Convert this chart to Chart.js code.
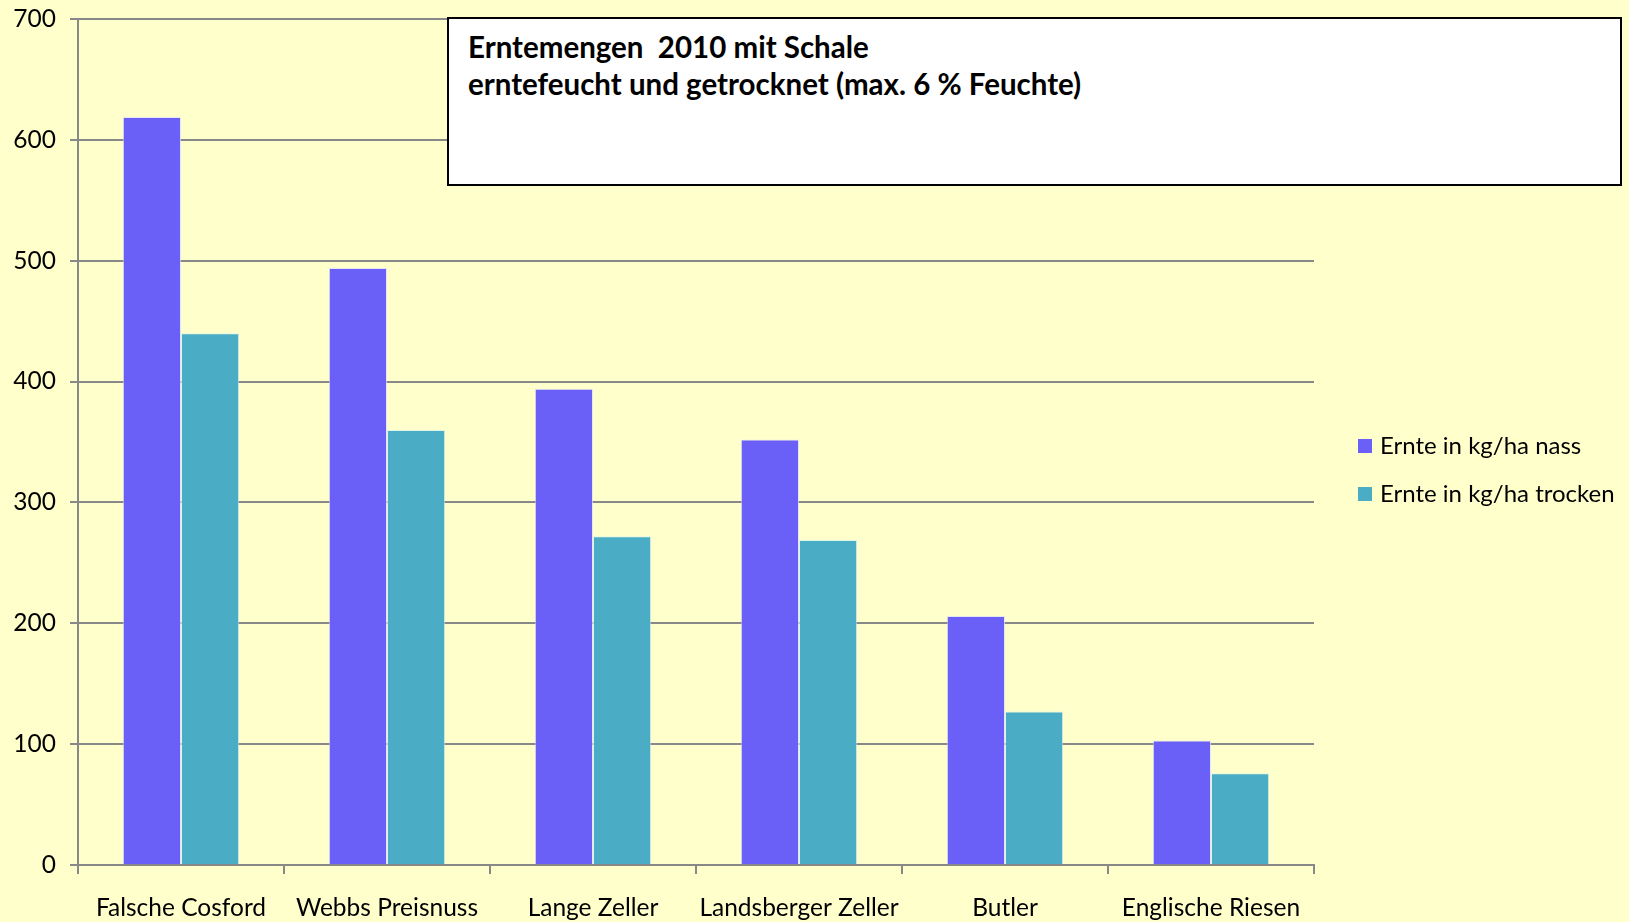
<!DOCTYPE html>
<html lang="de">
<head>
<meta charset="utf-8">
<title>Erntemengen 2010</title>
<script src="https://cdn.jsdelivr.net/npm/chart.js@4.4.1/dist/chart.umd.min.js"></script>
<style>
  html, body { margin: 0; padding: 0; background: #FFFFCC; }
  #wrap { position: relative; width: 1629px; height: 922px; overflow: hidden; }
  #chart { position: absolute; left: 0; top: 0; }
  #titleBox {
    position: absolute; left: 447px; top: 17px; width: 1175px; height: 169px;
    background: #fff; border: 2px solid #000; box-sizing: border-box;
    font-family: Lato, "Open Sans", sans-serif; font-weight: bold; font-size: 29.5px;
    line-height: 37px; padding: 9px 0 0 19px; color: #000;
  }
  #legend {
    position: absolute; left: 1358px; top: 431px;
    font-family: Lato, "Open Sans", sans-serif; font-size: 24px; color: #000;
  }
  #legend div { height: 48px; line-height: 28px; white-space: nowrap; }
  #legend span.box { display: inline-block; width: 14px; height: 14px; margin-right: 8px; vertical-align: 1px; }
</style>
</head>
<body>
<div id="wrap">
  <canvas id="chart" width="1629" height="922"></canvas>
  <div id="titleBox">Erntemengen&nbsp; 2010 mit Schale<br>erntefeucht und getrocknet (max. 6 % Feuchte)</div>
  <div id="legend"></div>
</div>
<script>
const sorten = ['Falsche Cosford', 'Webbs Preisnuss', 'Lange Zeller', 'Landsberger Zeller', 'Butler', 'Englische Riesen'];
const nass = [619, 494, 394, 352, 206, 103];
const trocken = [440, 360, 272, 269, 127, 76];
const yTicks = [0, 100, 200, 300, 400, 500, 600, 700];

const seriesNames = ['Ernte in kg/ha nass', 'Ernte in kg/ha trocken'];
const colNass = '#6A5FF7';
const colTrocken = '#4BACC6';
const gridGray = '#888888';
const labelFont = { family: 'Lato, "Open Sans", sans-serif', size: 24.5 };

// legend as html, next to the plot
document.getElementById('legend').innerHTML = seriesNames.map((n, i) =>
  `<div><span class="box" style="background:${i === 0 ? colNass : colTrocken}"></span>${n}</div>`
).join('');

const ctx = document.getElementById('chart').getContext('2d');
new Chart(ctx, {
  type: 'bar',
  data: {
    labels: sorten,
    datasets: [
      { label: seriesNames[0], data: nass, backgroundColor: colNass, borderColor: 'rgba(220,220,255,0.7)', borderWidth: 1 },
      { label: seriesNames[1], data: trocken, backgroundColor: colTrocken, borderColor: 'rgba(210,240,245,0.7)', borderWidth: 1 }
    ]
  },
  options: {
    responsive: false,
    animation: false,
    layout: { padding: { top: 19, right: 315, left: 0, bottom: 0 } },
    datasets: { bar: { categoryPercentage: 0.565, barPercentage: 1.0 } },
    plugins: {
      legend: { display: false },
      tooltip: { enabled: false }
    },
    scales: {
      x: {
        grid: { display: true, drawOnChartArea: false, offset: true, tickLength: 9, color: gridGray, lineWidth: 2 },
        border: { display: true, color: gridGray, width: 2 },
        ticks: { color: '#000', font: labelFont, padding: 19, maxRotation: 0 },
        afterFit: s => { s.height = 57; }
      },
      y: {
        min: 0, max: 700,
        afterBuildTicks: s => { s.ticks = yTicks.map(v => ({ value: v })); },
        grid: { color: gridGray, lineWidth: 2, tickLength: 8 },
        border: { display: true, color: gridGray, width: 2 },
        ticks: { color: '#000', font: labelFont, padding: 14 },
        afterFit: s => { s.width = 78; s.paddingTop = 0; s.paddingBottom = 0; }
      }
    }
  }
});
</script>
</body>
</html>
